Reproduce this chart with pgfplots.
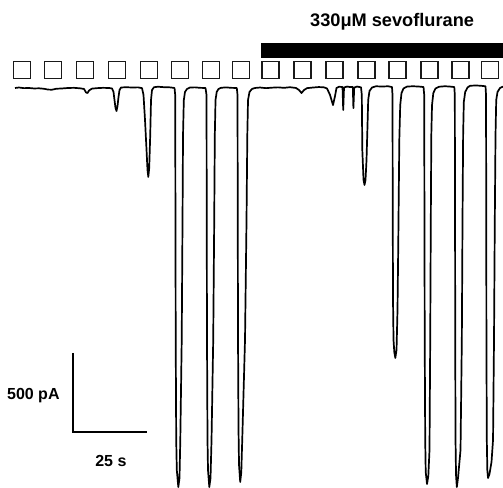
\documentclass[border=0pt]{standalone}
\usepackage{pgfplots}
\pgfplotsset{compat=1.18}
\usepackage{fontspec}
\setmainfont{Liberation Sans}
\begin{document}
\begin{tikzpicture}
\begin{axis}[
  at={(0,0)}, anchor=south west,
  scale only axis, width=503bp, height=488bp,
  xmin=-5.07, xmax=164.86, ymin=-2532, ymax=557,
  hide axis, clip=false,
]
% current trace: time (s), current (pA)
\addplot[black, line width=1.7bp, line join=round, mark=none] coordinates {
(0,0) (1.35,3) (3.04,-1) (4.73,0) (6.42,-3) (8.11,-2) (9.80,-5) (11.15,-10) (12.50,-11) (13.85,-5)
(15.88,-3) (17.91,0) (19.93,1) (21.96,-2) (23.31,-6) (23.99,-28) (24.49,-32) (25.00,-16) (26.01,-4)
(27.70,-1) (29.73,1) (31.76,0) (32.77,-3) (33.28,-25) (33.61,-76) (33.95,-127) (34.29,-146) (34.63,-114)
(34.97,-57) (35.30,-13) (35.81,3) (37.50,5) (39.53,3) (41.55,4) (42.91,-1) (43.41,-44) (43.92,-203)
(44.43,-392) (44.76,-519) (45.03,-563) (45.34,-506) (45.68,-298) (45.95,-76) (46.28,-13) (46.96,5)
(48.31,8) (50.34,5) (52.36,4) (53.89,0)
(54.12,-44) (54.19,-709) (54.29,-1595) (54.46,-2228) (54.66,-2418) (55.17,-2526) (55.57,-2469)
(55.84,-2228) (56.32,-1595) (56.59,-836) (56.76,-298) (57.03,-76) (57.43,-25) (58.11,-6) (59.12,3)
(60.81,4) (62.50,1) (64.36,0)
(64.70,-44) (64.76,-709) (64.86,-1595) (65.03,-2228) (65.20,-2418) (65.64,-2526) (66.05,-2469)
(66.39,-2228) (66.96,-1595) (67.30,-836) (67.50,-298) (67.74,-76) (68.14,-25) (68.75,-6) (69.59,1)
(71.28,4) (72.97,1) (74.93,0)
(75.17,-44) (75.24,-709) (75.34,-1595) (75.51,-2165) (75.68,-2386) (76.08,-2494) (76.45,-2431)
(76.86,-2165) (77.70,-1595) (78.21,-836) (78.48,-298) (78.72,-76) (79.22,-25) (80.07,-6) (81.08,0)
(82.77,3) (84.80,-1) (86.82,2) (88.85,4) (90.88,1) (92.91,5) (94.93,0) (95.95,-13) (96.79,-32)
(97.64,-13) (98.65,-1) (100.68,3) (102.70,6) (104.39,4) (105.41,-3) (106.42,-44) (107.43,-108)
(108.11,-51) (108.61,0) (109.46,8) (110.64,6) (110.88,-139) (111.15,3) (112.16,9) (113.18,6)
(114.12,6) (114.32,-127) (114.59,3) (115.54,9) (116.89,4)
(117.16,-44) (117.33,-392) (117.74,-582) (118.07,-614) (118.41,-582) (118.75,-456) (119.09,-234)
(119.32,-76) (119.76,-19) (120.61,3) (121.96,11) (123.99,9) (126.01,11) (127.36,6)
(127.53,-44) (127.60,-709) (127.70,-1342) (127.87,-1595) (128.14,-1671) (128.48,-1709) (128.89,-1658)
(129.22,-1405) (129.49,-962) (129.83,-329) (130.14,-108) (130.57,-32) (131.25,-3) (132.43,9)
(134.46,11) (136.49,9) (138.01,6)
(138.24,-44) (138.31,-709) (138.41,-1595) (138.58,-2228) (138.75,-2431) (139.19,-2507) (139.63,-2456)
(140.03,-2291) (140.27,-1595) (140.47,-836) (140.64,-298) (140.88,-108) (141.32,-32) (142.06,-3)
(143.24,8) (145.27,11) (146.96,9) (148.41,6)
(148.58,-44) (148.65,-709) (148.72,-1595) (148.82,-2228) (148.99,-2450) (149.26,-2526) (149.66,-2469)
(150.51,-2291) (150.95,-1595) (151.18,-836) (151.39,-298) (151.62,-89) (152.09,-25) (152.87,3)
(153.72,14) (155.74,16) (157.43,14) (158.95,11)
(159.12,-44) (159.19,-709) (159.26,-1595) (159.39,-2228) (159.56,-2418) (159.80,-2469) (160.30,-2443)
(160.98,-2367) (161.49,-2228) (161.82,-1595) (162.09,-836) (162.33,-298) (162.57,-76) (163.01,-25)
(163.85,0) (164.86,9)
};
% stimulus markers
\addplot[only marks, mark=square, mark size=8.3bp, mark options={line width=1.5bp, draw=black!90}] coordinates {
(2.36,114) (12.84,114) (23.65,114) (34.46,114) (45.27,114) (55.74,114) (66.22,114) (76.35,114)
(86.32,114) (97.13,114) (107.94,114) (118.75,114) (129.22,114) (140.03,114) (150.51,114) (160.47,114)
};
% sevoflurane application bar
\addplot[fill=black, draw=none] coordinates {(83.11,190) (164.86,190) (164.86,285) (83.11,285)} -- cycle;
% scale bar
\addplot[black, line width=1.8bp, mark=none] coordinates {(19.6,-1677) (19.6,-2177) (44.6,-2177)};
\node[anchor=base, font=\fontsize{18.2bp}{21bp}\selectfont\bfseries] at (axis cs:127.4,392) {330μM sevoflurane};
\node[anchor=base, font=\fontsize{16bp}{19bp}\selectfont\bfseries] at (axis cs:6.2,-1971) {500 pA};
\node[anchor=base, font=\fontsize{16bp}{19bp}\selectfont\bfseries] at (axis cs:32.4,-2393) {25 s};
\end{axis}
\pgfresetboundingbox
\useasboundingbox (0,0) rectangle (503bp,488bp);
\end{tikzpicture}
\end{document}
